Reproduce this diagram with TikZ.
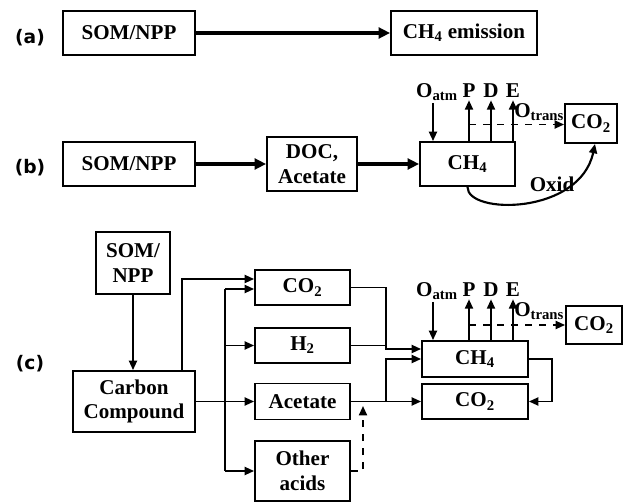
\documentclass[tikz,border=0pt]{standalone}
\usepackage{fontspec}
\setmainfont{Liberation Serif}
\newfontfamily\tagfamily{DejaVu Sans}
\usetikzlibrary{arrows.meta}

\newcommand{\boxfont}{\fontsize{15.8}{18.5}\selectfont\bfseries}
\newcommand{\tagfont}{\tagfamily\fontsize{14}{16}\selectfont\bfseries}

\tikzset{
  box/.style={draw, line width=1.4pt, inner sep=0pt, align=center, font=\boxfont},
  flux/.style={font=\boxfont, inner sep=1.5pt, anchor=base},
  tag/.style={font=\tagfont, inner sep=0pt},
  flow/.style={-{Triangle[length=7pt,width=6pt]}, line width=1.4pt},
  bigflow/.style={-{Triangle[length=8.5pt,width=8pt]}, line width=2.6pt},
  dashflow/.style={flow, dash pattern=on 5.5pt off 5pt}
}

\begin{document}
\begin{tikzpicture}[x=0.75pt, y=-0.75pt]
    \useasboundingbox (0,0) rectangle (625,502);

    % Row (a): one step
    \node[tag] (tagA) at (30,38) {(a)};
    \node[box, minimum width=99pt, minimum height=33pt] (somA) at (129,33) {SOM/NPP};
    \node[box, minimum width=109.5pt, minimum height=33pt] (ch4A) at (464,33) {CH\textsubscript{4} emission};
    \draw[bigflow] (somA.east) -- (ch4A.west);

    % Row (b): substrate pool
    \node[tag] (tagB) at (30,168) {(b)};
    \node[box, minimum width=99pt, minimum height=33pt] (somB) at (129,164) {SOM/NPP};
    \node[box, minimum width=67.5pt, minimum height=40.5pt] (docB) at (312,164) {DOC,\\Acetate};
    \node[box, minimum width=71.25pt, minimum height=33pt] (ch4B) at (467.5,164) {CH\textsubscript{4}};
    \node[box, minimum width=39pt, minimum height=29.25pt] (co2B) at (591,123.5) {CO\textsubscript{2}};
    \draw[bigflow] (somB.east) -- (docB.west);
    \draw[bigflow] (docB.east) -- (ch4B.west);

    % Fluxes on top of CH4 (b)
    \node[flux] (oatmB) at (437,98) {O\textsubscript{atm}};
    \node[flux] (pB) at (469,98) {P};
    \node[flux] (dB) at (491,98) {D};
    \node[flux] (eB) at (513,98) {E};
    \node[flux, anchor=base west, inner sep=0pt] (otransB) at (514,118) {O\textsubscript{trans}};
    \coordinate (inB) at (433,103);
    \draw[flow] (inB) -- (inB |- ch4B.north);
    \draw[flow] (pB.south |- ch4B.north) -- (pB.south);
    \draw[flow] (dB.south |- ch4B.north) -- (dB.south);
    \draw[flow] (eB.south |- ch4B.north) -- (eB.south);
    \coordinate (dashB) at (469,124.5);
    \draw[dashflow] (dashB) -- (dashB -| co2B.west);

    % Oxidation (b)
    \draw[flow, line width=1.6pt] (ch4B.south) .. controls (467,215) and (580,215) .. ([xshift=3pt]co2B.south);
    \node[flux, anchor=center] (oxidB) at (552,184) {Oxid};

    % Row (c): full pathway
    \node[tag] (tagC) at (30,364) {(c)};
    \node[box, minimum width=55.5pt, minimum height=46.5pt] (somC) at (133,263) {SOM/\\NPP};
    \node[box, minimum width=91.5pt, minimum height=45.75pt] (carbC) at (134,401.5) {Carbon\\Compound};
    \node[box, minimum width=71.25pt, minimum height=26.25pt] (co2C) at (302.5,287.5) {CO\textsubscript{2}};
    \node[box, minimum width=71.25pt, minimum height=26.25pt] (h2C) at (302.5,345.5) {H\textsubscript{2}};
    \node[box, minimum width=71.25pt, minimum height=27pt] (acetC) at (302.5,401.5) {Acetate};
    \node[box, minimum width=71.25pt, minimum height=45pt] (otherC) at (302.5,471) {Other\\acids};
    \node[box, minimum width=79.5pt, minimum height=27pt] (ch4C) at (475,359) {CH\textsubscript{4}};
    \node[box, minimum width=79.5pt, minimum height=26.25pt] (co2dC) at (475,401.5) {CO\textsubscript{2}};
    \node[box, minimum width=42pt, minimum height=28.5pt] (co2rC) at (594,325) {CO\textsubscript{2}};

    % Decomposition
    \draw[flow] (somC.south) -- (somC.south |- carbC.north);
    \coordinate (topC) at (182,279);
    \draw[flow] (topC |- carbC.north) -- (topC) -- (topC -| co2C.west);
    \draw[flow] (carbC.east) -- (acetC.west);
    \coordinate (brC) at (225,289);
    \draw[line width=1.4pt] (brC) -- (brC |- otherC.west);
    \draw[flow] (brC) -- (brC -| co2C.west);
    \draw[flow] (brC |- h2C.west) -- (h2C.west);
    \draw[flow] (brC |- otherC.west) -- (otherC.west);
    \coordinate (upC) at (363,406);
    \draw[dashflow] (otherC.east) -| (upC);

    % Methanogenesis
    \coordinate (jnC) at (386,349);
    \draw[flow] (co2C.east) -| (jnC) -- (jnC -| ch4C.west);
    \draw[line width=1.4pt] (h2C.east) -- (h2C.east -| jnC);
    \draw[flow] (acetC.east) -- (co2dC.west);
    \draw[flow] (jnC |- acetC.east) |- (ch4C.west);
    \draw[flow] (ch4C.east) -- ++(23,0) |- (co2dC.east);

    % Fluxes on top of CH4 (c)
    \node[flux] (oatmC) at (437,297) {O\textsubscript{atm}};
    \node[flux] (pC) at (469,297) {P};
    \node[flux] (dC) at (491,297) {D};
    \node[flux] (eC) at (513,297) {E};
    \node[flux, anchor=base west, inner sep=0pt] (otransC) at (514,317) {O\textsubscript{trans}};
    \coordinate (inC) at (433,302);
    \draw[flow] (inC) -- (inC |- ch4C.north);
    \draw[flow] (pC.south |- ch4C.north) -- (pC.south);
    \draw[flow] (dC.south |- ch4C.north) -- (dC.south);
    \draw[flow] (eC.south |- ch4C.north) -- (eC.south);
    \coordinate (dashC) at (469,325);
    \draw[dashflow] (dashC) -- (dashC -| co2rC.west);
\end{tikzpicture}
\end{document}
